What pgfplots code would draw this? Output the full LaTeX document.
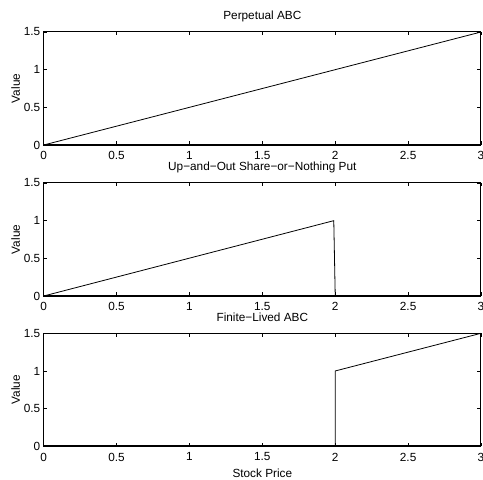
\documentclass[border=0pt]{standalone}
\usepackage{fontspec}
\setmainfont{Liberation Sans}
\usepackage{pgfplots}
\pgfplotsset{compat=1.18}

\newcommand{\mfont}{\fontsize{11.8}{13}\selectfont}

\pgfplotsset{
  panel/.style={
    scale only axis,
    width=437.3pt, height=113pt,
    xmin=0, xmax=3, ymin=0, ymax=1.5,
    xtick={0,0.5,1,1.5,2,2.5,3},
    ytick={0,0.5,1,1.5},
    xticklabels={0,0.5,1,1.5,2,2.5,3},
    yticklabels={0,0.5,1,1.5},
    tick align=inside,
    xtick pos=both, ytick pos=both,
    major tick length=3.5pt,
    tick style={black, line width=0.6pt},
    axis line style={line width=1pt},
    /pgf/number format/assume math mode=true,
    ticklabel style={font=\mfont},
    xticklabel style={yshift=-3pt},
    ylabel=Value,
    ylabel style={font=\mfont, at={(axis description cs:0,0.5)}, anchor=base, yshift=23.7pt},
    title style={font=\mfont, at={(axis description cs:0.5,1)}, anchor=base, yshift=6pt},
    clip=false,
    after end axis/.code={
      \draw[line width=1.6pt] (rel axis cs:0,1) -- (rel axis cs:0,0) -- (rel axis cs:1,0);
    },
  }
}

\begin{document}
\begin{tikzpicture}
\useasboundingbox (0,0) rectangle (483pt,480pt);

% top panel
\begin{axis}[panel, at={(43.7pt,335pt)}, anchor=south west,
    title={Perpetual ABC}]
\addplot[black, line width=0.8pt] coordinates {
    (0,0) (3,1.5)
};
\end{axis}

% middle panel
\begin{axis}[panel, at={(43.7pt,184pt)}, anchor=south west,
    title={Up−and−Out Share−or−Nothing Put}]
\addplot[black, line width=0.8pt] coordinates {
    (0,0) (1.99,1) (2,0) (3,0)
};
\end{axis}

% bottom panel
\begin{axis}[panel, at={(43.7pt,33.7pt)}, anchor=south west,
    title={Finite−Lived ABC},
    xlabel={Stock Price},
    xlabel style={font=\mfont, at={(axis description cs:0.5,0)}, anchor=base, yshift=-31pt}]
\addplot[black, line width=0.8pt] coordinates {
    (0,0) (2,0) (2,1) (3,1.5)
};
\end{axis}
\end{tikzpicture}
\end{document}
